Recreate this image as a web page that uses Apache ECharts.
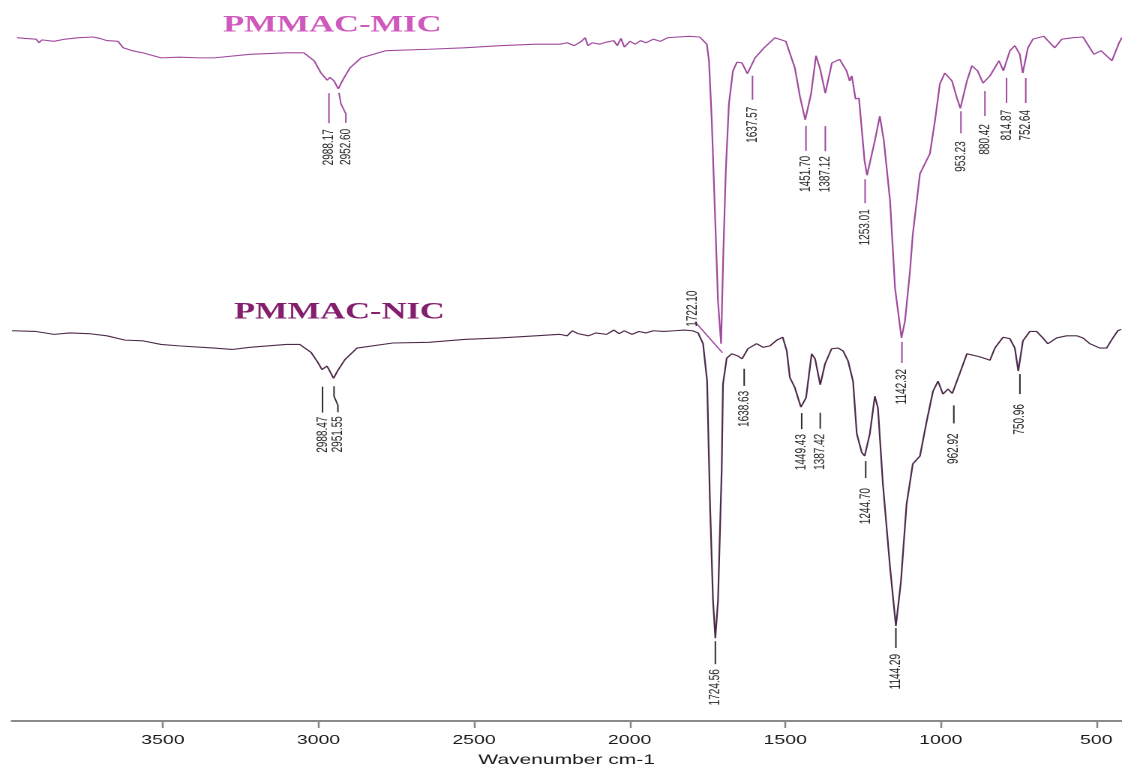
<!DOCTYPE html>
<html>
<head>
<meta charset="utf-8">
<script src="https://cdn.jsdelivr.net/npm/echarts@6/dist/echarts.min.js"></script>
<style>
  html, body { margin: 0; padding: 0; background: #ffffff; overflow: hidden; }
  #wrap { width: 1122px; height: 770px; overflow: hidden; }
  /* the spectrum sheet is laid out narrow and printed 1.5x wide */
  #chart { width: 748px; height: 770px; transform: scaleX(1.5); transform-origin: 0 0; }
</style>
</head>
<body>
<div id="wrap"><div id="chart"></div></div>
<script>
// FTIR spectra: [wavenumber (cm-1), transmittance (offset, arbitrary %)]
const micName = 'PMMAC-MIC';
const nicName = 'PMMAC-NIC';

const micSpectrum = [
  [3985,94.9],[3959,94.8],[3924,94.7],[3914,94.2],[3905,94.6],[3866,94.4],[3831,94.7],[3786,94.9],
  [3741,95.0],[3718,94.8],[3696,94.5],[3660,94.4],[3644,93.5],[3615,93.1],[3580,92.8],[3522,92.1],
  [3464,92.2],[3397,92.1],[3352,92.1],[3236,92.6],[3120,92.8],[3063,92.8],[3030,91.7],[3008,90.0],
  [2988.17,89.0],[2979,89.4],[2966,88.9],[2952.60,87.8],[2937,89.1],[2915,90.7],[2879,92.1],[2799,93.1],
  [2661,93.3],[2548,93.5],[2433,93.8],[2317,94.0],[2240,94.0],[2217,94.2],[2194,93.8],[2171,94.4],
  [2159,94.9],[2150,93.8],[2136,94.2],[2113,94.0],[2090,94.3],[2067,94.5],[2056,93.8],[2044,94.8],
  [2033,93.6],[2015,94.4],[1998,94.0],[1981,94.5],[1964,94.2],[1940,94.7],[1917,94.4],[1894,94.9],
  [1860,95.0],[1825,95.1],[1791,95.0],[1768,94.0],[1761,91.7],[1752,83.3],[1742,70.8],[1732,58.3],
  [1722.10,52.4],[1715,64.9],[1707,76.4],[1697,85.7],[1684,90.3],[1671,91.5],[1655,91.4],[1637.57,89.9],
  [1613,92.1],[1584,93.5],[1549,94.9],[1514,94.4],[1485,90.7],[1469,86.8],[1451.70,83.5],[1433,87.1],
  [1417,92.4],[1404,90.6],[1387.12,87.2],[1366,91.4],[1341,91.9],[1319,90.3],[1309,88.9],[1302,89.6],
  [1290,86.4],[1279,86.5],[1261,77.8],[1253.01,75.8],[1228,80.6],[1212,84.0],[1199,80.6],[1179,72.2],
  [1163,60.1],[1142.32,53.2],[1131,55.6],[1115,62.5],[1106,67.6],[1083,76.0],[1067,77.4],[1051,78.8],
  [1035,83.3],[1019,88.5],[1003,90.0],[980,88.9],[964,86.5],[953.23,85.1],[932,88.9],[916,91.0],
  [898,90.3],[880.42,88.6],[858,89.6],[829,91.7],[814.87,90.3],[794,93.1],[778,93.8],[762,92.6],
  [752.64,90.0],[736,93.5],[720,94.7],[685,95.1],[650,93.5],[627,94.7],[591,94.9],[559,95.0],
  [524,92.6],[501,93.1],[466,91.7],[443,94.2],[434,94.9],[420,94.6]
];

const nicSpectrum = [
  [3985,54.2],[3908,54.1],[3850,53.7],[3799,53.9],[3738,53.8],[3680,53.5],[3622,52.9],[3564,52.8],
  [3506,52.3],[3448,52.1],[3336,51.8],[3278,51.6],[3220,51.9],[3104,52.3],[3060,52.3],[3024,51.2],
  [3002,49.8],[2988.47,48.8],[2973,49.3],[2966,48.8],[2951.55,47.6],[2939,48.6],[2915,50.2],[2876,51.8],
  [2761,52.5],[2645,52.6],[2532,53.0],[2417,53.2],[2301,53.5],[2224,53.7],[2201,53.5],[2184,54.2],
  [2166,53.8],[2132,53.5],[2109,53.9],[2074,53.7],[2051,54.3],[2034,53.8],[2017,54.2],[1993,53.7],
  [1970,54.1],[1947,53.9],[1924,54.2],[1890,54.1],[1855,54.2],[1826,54.3],[1798,54.2],[1780,53.9],
  [1764,52.4],[1751,47.2],[1742,30.6],[1732,16.7],[1724.56,11.5],[1716,16.7],[1704,35.1],[1700,46.8],
  [1688,50.4],[1672,51.0],[1652,50.7],[1638.63,50.3],[1620,51.7],[1592,52.4],[1571,51.9],[1549,52.1],
  [1527,52.9],[1508,53.3],[1495,51.4],[1485,47.7],[1469,46.3],[1459,44.9],[1449.43,43.6],[1433,44.9],
  [1415,51.0],[1404,50.3],[1387.42,46.7],[1372,49.6],[1351,51.7],[1330,51.8],[1314,51.4],[1298,50.0],
  [1282,47.2],[1270,39.9],[1254,37.3],[1244.70,36.8],[1228,39.9],[1212,45.1],[1202,43.5],[1186,32.9],
  [1163,21.3],[1144.29,13.2],[1128,19.4],[1110,30.1],[1090,35.7],[1067,36.8],[1045,41.7],[1025,45.8],
  [1009,47.2],[993,45.4],[977,46.1],[962.92,45.5],[938,48.4],[916,51.0],[885,50.7],[869,50.5],
  [842,50.1],[826,51.8],[800,53.3],[778,53.1],[762,51.8],[750.96,48.6],[736,52.8],[714,54.1],
  [692,54.1],[672,53.2],[656,52.4],[628,53.2],[596,53.5],[563,53.5],[543,53.2],[521,52.4],
  [489,51.8],[467,51.8],[447,53.2],[431,54.2],[420,54.4]
];

// labelled band positions (cm-1)
const micPeaks = [2988.17, 2952.60, 1722.10, 1637.57, 1451.70, 1387.12, 1253.01, 1142.32, 953.23, 880.42, 814.87, 752.64];
const nicPeaks = [2988.47, 2951.55, 1724.56, 1638.63, 1449.43, 1387.42, 1244.70, 1144.29, 962.92, 750.96];

const xTickValues = [3500, 3000, 2500, 2000, 1500, 1000, 500];
const xRange = [420, 3985];

// leader-line and text placement of each band label, in px relative to the band minimum
const micLabelLayout = [
  { leader: [[1.2, 13], [1.2, 43]], text: [1.2, 49] },
  { leader: [[0.5, 4], [1.8, 15], [5.1, 25], [5.1, 34]], text: [5.1, 40] },
  { leader: [[0.9, 9], [-17.4, -22]], text: [-19.1, -17], up: true },
  { leader: [[3.4, 2], [3.4, 26]], text: [3.4, 33] },
  { leader: [[0.5, 6], [0.5, 31]], text: [0.5, 36] },
  { leader: [[0, 33], [0, 58]], text: [0, 63] },
  { leader: [[-1.3, 4], [-1.3, 28]], text: [-1.3, 34] },
  { leader: [[0.3, 4], [0.3, 25]], text: [0.3, 31] },
  { leader: [[0.4, 3], [0.4, 25]], text: [0.4, 33] },
  { leader: [[1.3, 8], [1.3, 33]], text: [1.3, 41] },
  { leader: [[2.1, 7], [2.1, 32]], text: [2.1, 39] },
  { leader: [[2, 5], [2, 30]], text: [2, 37] }
];
const nicLabelLayout = [
  { leader: [[0.3, 17], [0.3, 43]], text: [0.3, 47] },
  { leader: [[0.3, 8], [0.3, 18], [2.9, 27], [2.9, 34]], text: [2.9, 38] },
  { leader: [[0, 3], [0, 26]], text: [0, 31] },
  { leader: [[1.4, 10], [1.4, 27]], text: [1.4, 32] },
  { leader: [[0.5, 6], [0.5, 22]], text: [0.5, 27] },
  { leader: [[0, 28], [0, 44]], text: [0, 49] },
  { leader: [[0.7, 5], [0.7, 22]], text: [0.7, 32] },
  { leader: [[0, 2], [0, 22]], text: [0, 28] },
  { leader: [[1, 12], [1, 30]], text: [1, 40] },
  { leader: [[1.1, 3], [1.1, 23]], text: [1.1, 33] }
];

const micColor = '#a04a9e';
const nicColor = '#4d2a4b';
const labelFont = '10px "Liberation Sans", Arial, sans-serif';

function peakPoints(spectrum, peaks) {
  return peaks.map(w => spectrum.find(p => p[0] === w));
}

function bandLabels(layout, lineColor) {
  return function (params, api) {
    const wn = api.value(0);
    const p = api.coord([wn, api.value(1)]);
    const L = layout[params.dataIndex];
    const pts = L.leader.map(d => [p[0] + d[0], p[1] + d[1]]);
    return {
      type: 'group',
      children: [
        { type: 'polyline', shape: { points: pts },
          style: { stroke: lineColor, lineWidth: 1, fill: null } },
        { type: 'text', x: p[0] + L.text[0], y: p[1] + L.text[1], rotation: Math.PI / 2,
          style: { text: wn.toFixed(2), fill: '#262626', font: labelFont,
                   align: L.up ? 'left' : 'right', verticalAlign: 'middle',
                   textAlign: L.up ? 'left' : 'right', textVerticalAlign: 'middle' } }
      ]
    };
  };
}

const chart = echarts.init(document.getElementById('chart'), null, { renderer: 'canvas', devicePixelRatio: 2 });

const axisGray = '#8a8a8a';
chart.setOption({
  animation: false,
  backgroundColor: '#ffffff',
  grid: [
    { left: 8, width: 739.5, top: 1, bottom: 49, outerBoundsMode: 'none', containLabel: false },
    { left: 11.33, width: 739.5, top: 1, bottom: 49, outerBoundsMode: 'none', containLabel: false }
  ],
  xAxis: [
    {
      gridIndex: 0, type: 'value', min: xRange[0], max: xRange[1], inverse: true,
      name: 'Wavenumber cm-1', nameLocation: 'middle', nameGap: 32,
      nameTextStyle: { color: '#1a1a1a', fontSize: 14, fontFamily: '"Liberation Sans", Arial, sans-serif' },
      axisLine: { show: true, onZero: false, lineStyle: { color: axisGray, width: 2 } },
      axisTick: { show: true, customValues: xTickValues, length: 7, lineStyle: { color: axisGray, width: 1.3 } },
      axisLabel: { customValues: xTickValues, margin: 13, color: '#1a1a1a', fontSize: 13,
                   fontFamily: '"Liberation Sans", Arial, sans-serif',
                   formatter: v => String(v) },
      splitLine: { show: false }
    },
    { gridIndex: 1, type: 'value', min: xRange[0], max: xRange[1], inverse: true, show: false }
  ],
  yAxis: [
    { gridIndex: 0, type: 'value', min: 0, max: 100, show: false },
    { gridIndex: 1, type: 'value', min: 0, max: 100, show: false }
  ],
  graphic: [
    { type: 'text', x: 148.7, y: 25.5, silent: true,
      style: { text: micName, fill: '#cf58bc', font: 'bold 23px "Liberation Serif", "Times New Roman", serif',
               verticalAlign: 'middle', textVerticalAlign: 'middle' } },
    { type: 'text', x: 156, y: 312.5, silent: true,
      style: { text: nicName, fill: '#841f6d', font: 'bold 23px "Liberation Serif", "Times New Roman", serif',
               verticalAlign: 'middle', textVerticalAlign: 'middle' } }
  ],
  series: [
    {
      name: nicName, type: 'line', xAxisIndex: 0, yAxisIndex: 0, data: nicSpectrum,
      showSymbol: false, silent: true, lineStyle: { color: nicColor, width: 1.1 }
    },
    {
      name: micName, type: 'line', xAxisIndex: 1, yAxisIndex: 1, data: micSpectrum,
      showSymbol: false, silent: true, lineStyle: { color: micColor, width: 1.1 }
    },
    {
      type: 'custom', xAxisIndex: 0, yAxisIndex: 0, silent: true,
      data: peakPoints(nicSpectrum, nicPeaks), renderItem: bandLabels(nicLabelLayout, '#2e2e2e')
    },
    {
      type: 'custom', xAxisIndex: 1, yAxisIndex: 1, silent: true,
      data: peakPoints(micSpectrum, micPeaks), renderItem: bandLabels(micLabelLayout, micColor)
    }
  ]
});
</script>
</body>
</html>
